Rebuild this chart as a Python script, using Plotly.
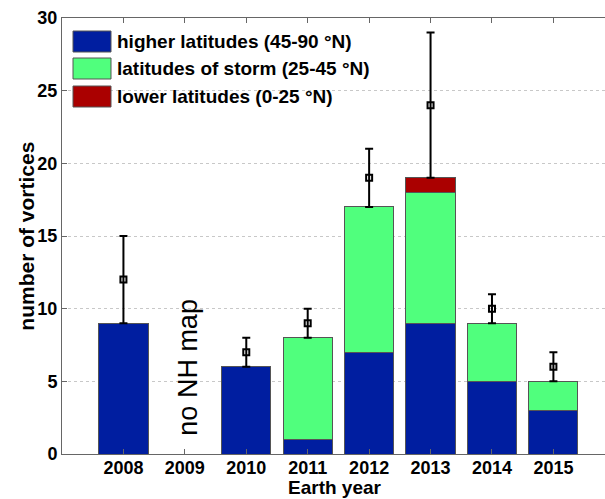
import plotly.graph_objects as go

years = [2008, 2010, 2011, 2012, 2013, 2014, 2015]
higher = [9, 6, 1, 7, 9, 5, 3]
storm = [0, 0, 7, 10, 9, 4, 2]
lower = [0, 0, 0, 0, 1, 0, 0]
mean_est = [12, 7, 9, 19, 24, 10, 6]
err = [3, 1, 1, 2, 5, 1, 1]
tick_years = [2008, 2009, 2010, 2011, 2012, 2013, 2014, 2015]

series_names = ["higher latitudes (45-90 °N)", "latitudes of storm (25-45 °N)", "lower latitudes (0-25 °N)"]
colors = ["rgb(0,30,160)", "rgb(80,255,125)", "rgb(170,0,0)"]

W, H = 605, 499
L, R, T, B = 62, 0, 18, 45
pw, ph = W - L - R, H - T - B

def px(x):
    return (x - L) / pw

def py(y):
    return (H - B - y) / ph

fig = go.Figure()
for vals, name, col in zip([higher, storm, lower], series_names, colors):
    fig.add_trace(go.Bar(x=years, y=vals, name=name, marker=dict(color=col, line=dict(color="#555", width=1)),
                         width=0.8, showlegend=False))

fig.add_trace(go.Scatter(x=years, y=mean_est, mode="markers",
                         marker=dict(symbol="square-open", size=6, color="black", line=dict(width=2, color="black")),
                         error_y=dict(type="data", array=err, visible=True, color="black", thickness=2, width=4),
                         showlegend=False))

font_b = dict(family="Liberation Sans", size=18, color="black", weight="bold")

shapes = []
annotations = []
sw_y = [(31, 52), (58, 79), (86, 107)]
for (y0, y1), name, col in zip(sw_y, series_names, colors):
    shapes.append(dict(type="rect", xref="paper", yref="paper", x0=px(73), x1=px(111), y0=py(y1), y1=py(y0),
                       fillcolor=col, line=dict(color="#555", width=1)))
    annotations.append(dict(xref="paper", yref="paper", x=px(115), y=py((y0 + y1) / 2), text=name, showarrow=False,
                            xanchor="left", yanchor="middle",
                            font=dict(family="Liberation Sans", size=19, color="black", weight="bold")))

annotations.append(dict(xref="x", yref="y", x=2009, y=6, text="no NH map", textangle=-90, showarrow=False,
                        xshift=3, font=dict(family="Liberation Sans", size=27, color="black")))
annotations.append(dict(xref="paper", yref="paper", x=px(25.7), y=0.5, text="number of vortices", textangle=-90,
                        showarrow=False, xanchor="center", yanchor="middle",
                        font=dict(family="Liberation Sans", size=21, color="black", weight="bold")))
annotations.append(dict(xref="paper", yref="paper", x=px(335), y=py(499), text="Earth year",
                        showarrow=False, xanchor="center", yanchor="bottom", borderpad=0,
                        font=dict(family="Liberation Sans", size=19, color="black", weight="bold")))

fig.update_layout(
    width=W, height=H, margin=dict(l=L, r=R, t=T, b=B),
    barmode="stack", plot_bgcolor="white", paper_bgcolor="white",
    shapes=shapes, annotations=annotations,
    xaxis=dict(range=[2007, 2015.84], tickvals=tick_years, ticktext=[str(y) for y in tick_years],
               ticks="inside", ticklen=5, tickcolor="#666", showline=True, linecolor="#666", linewidth=1,
               mirror="ticks", showgrid=False, zeroline=False, tickfont=font_b, ticklabelstandoff=-3),
    yaxis=dict(range=[0, 30], dtick=5, ticks="inside", ticklen=5, tickcolor="#666", showline=True,
               linecolor="#666", linewidth=1, mirror=False, showgrid=True, gridcolor="#c8c8c8",
               griddash="dot", gridwidth=1, zeroline=False, tickfont=font_b),
)

fig.write_html("out.html")
